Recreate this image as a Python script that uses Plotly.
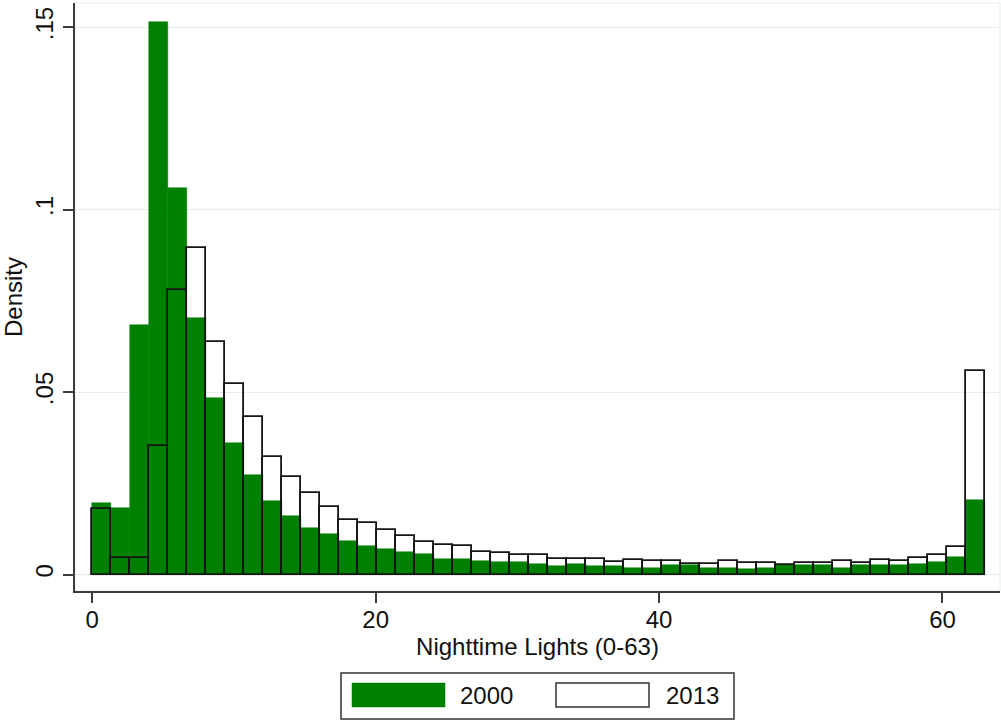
import numpy as np
import plotly.graph_objects as go

# ---- data ----
bin_min = 0.0
bin_max = 63.0
n_bins = 47

density_2000 = [0.0196, 0.0183, 0.0683, 0.1515, 0.1060, 0.0702, 0.0483, 0.0360, 0.0273, 0.0201,
                0.0160, 0.0128, 0.0111, 0.0093, 0.0079, 0.0070, 0.0061, 0.0056, 0.0042, 0.0042,
                0.0038, 0.0033, 0.0033, 0.0029, 0.0024, 0.0029, 0.0024, 0.0024, 0.0019, 0.0019,
                0.0026, 0.0026, 0.0019, 0.0019, 0.0015, 0.0019, 0.0026, 0.0026, 0.0026, 0.0019,
                0.0026, 0.0026, 0.0026, 0.0030, 0.0034, 0.0048, 0.0204]
density_2013 = [0.0180, 0.0044, 0.0044, 0.0353, 0.0780, 0.0895, 0.0637, 0.0523, 0.0432, 0.0322,
                0.0267, 0.0222, 0.0184, 0.0150, 0.0141, 0.0123, 0.0105, 0.0089, 0.0082, 0.0077,
                0.0063, 0.0058, 0.0054, 0.0054, 0.0043, 0.0043, 0.0043, 0.0035, 0.0040, 0.0036,
                0.0036, 0.0030, 0.0030, 0.0036, 0.0031, 0.0031, 0.0026, 0.0031, 0.0031, 0.0036,
                0.0031, 0.0041, 0.0036, 0.0045, 0.0054, 0.0076, 0.0558]
series_names = ["2000", "2013"]
x_tick_vals = [0, 20, 40, 60]
y_tick_vals = [0, 0.05, 0.1, 0.15]
y_tick_text = ["0", ".05", ".1", ".15"]

edges = np.linspace(bin_min, bin_max, n_bins + 1)
centers = (edges[:-1] + edges[1:]) / 2
width = edges[1] - edges[0]

FONT = "Arial, 'Liberation Sans', sans-serif"
GREEN = "#008000"
AXC = "#3c3c3c"

fig = go.Figure()
fig.add_trace(go.Bar(x=centers, y=density_2000, width=width, name=series_names[0],
                     marker=dict(color=GREEN, line=dict(color=GREEN, width=0.5)),
                     showlegend=False))
fig.add_trace(go.Bar(x=centers, y=density_2013, width=width, name=series_names[1],
                     marker=dict(color="rgba(0,0,0,0)", line=dict(color="#151515", width=1.8)),
                     showlegend=False))

W, H = 1001, 725
ml, mr, mt, mb = 75, 1, 3, 134
pw, ph = W - ml - mr, H - mt - mb

def px(xp):
    return (xp - ml) / pw

def py(yp):
    return (H - mb - yp) / ph

# custom Stata-like legend (box + wide swatches)
shapes = [
    dict(type="rect", xref="paper", yref="paper", x0=0, x1=1, y0=0, y1=1,
         line=dict(color="#E8EEEF", width=1), layer="below"),
    dict(type="rect", xref="paper", yref="paper", x0=px(341), x1=px(734), y0=py(719), y1=py(673),
         line=dict(color="#333333", width=1.5), fillcolor="white"),
    dict(type="rect", xref="paper", yref="paper", x0=px(352), x1=px(445), y0=py(707), y1=py(683),
         line=dict(color=GREEN, width=0.5), fillcolor=GREEN),
    dict(type="rect", xref="paper", yref="paper", x0=px(556), x1=px(649), y0=py(707), y1=py(683),
         line=dict(color="#333333", width=1.5), fillcolor="white"),
]
annotations = [
    dict(text=series_names[0], xref="paper", yref="paper", x=px(458), y=py(695),
         xanchor="left", yanchor="middle", showarrow=False,
         font=dict(family=FONT, size=24, color="#111111")),
    dict(text=series_names[1], xref="paper", yref="paper", x=px(664), y=py(695),
         xanchor="left", yanchor="middle", showarrow=False,
         font=dict(family=FONT, size=24, color="#111111")),
]

fig.update_layout(
    width=W, height=H,
    margin=dict(l=ml, r=mr, t=mt, b=mb, pad=0),
    paper_bgcolor="white", plot_bgcolor="white",
    barmode="overlay", bargap=0,
    font=dict(family=FONT, size=24, color="#111111"),
    shapes=shapes, annotations=annotations,
    xaxis=dict(range=[-1.22, 64.06], tickvals=x_tick_vals, showgrid=False, zeroline=False,
               showline=True, linecolor=AXC, linewidth=1.5,
               ticks="outside", ticklen=10, tickwidth=1.5, tickcolor=AXC,
               ticklabelstandoff=-4,
               tickfont=dict(family=FONT, size=24, color="#111111"),
               title=dict(text="Nighttime Lights (0-63)", standoff=0,
                          font=dict(family=FONT, size=24, color="#111111"))),
    yaxis=dict(range=[-0.00452, 0.1566], tickvals=y_tick_vals, ticktext=y_tick_text,
               tickangle=-90, showgrid=True, gridcolor="#E6EEEF", gridwidth=1, zeroline=False,
               showline=True, linecolor=AXC, linewidth=1.5,
               ticks="outside", ticklen=10, tickwidth=1.5, tickcolor=AXC,
               ticklabelstandoff=1,
               tickfont=dict(family=FONT, size=24, color="#111111"),
               title=dict(text="Density", standoff=7,
                          font=dict(family=FONT, size=24, color="#111111"))),
)

fig.write_html("out.html")
